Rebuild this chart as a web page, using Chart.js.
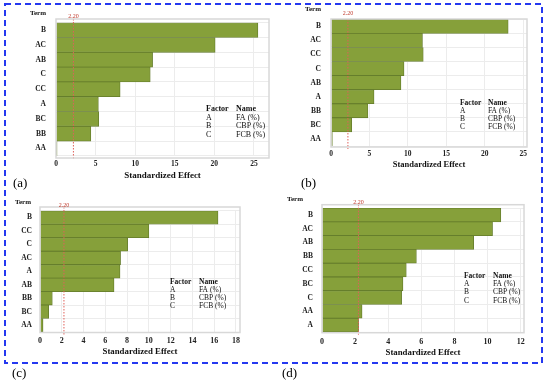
<!DOCTYPE html>
<html>
<head>
<meta charset="utf-8">
<script src="https://cdn.jsdelivr.net/npm/chart.js@4.4.1/dist/chart.umd.min.js"></script>
<style>
  html, body { margin: 0; padding: 0; background: #fff; }
  #page { position: relative; width: 550px; height: 380px; overflow: hidden; font-family: "Liberation Serif", "Times New Roman", serif; }
  #page canvas, #page svg { position: absolute; }
  .tag { position: absolute; font-size: 13px; line-height: 1; color: #000; }
</style>
</head>
<body>
<div id="page">
  <svg width="550" height="380" style="left:0;top:0">
    <rect x="5" y="4" width="537" height="359" fill="none" stroke="#2538f0" stroke-width="2" stroke-dasharray="6 4"/>
  </svg>
  <canvas id="chartA" width="275" height="190" style="left:0;top:0"></canvas>
  <canvas id="chartB" width="275" height="190" style="left:275px;top:0"></canvas>
  <canvas id="chartC" width="275" height="190" style="left:0;top:190px"></canvas>
  <canvas id="chartD" width="275" height="190" style="left:275px;top:190px"></canvas>
  <div class="tag" style="left:13px;top:176px">(a)</div>
  <div class="tag" style="left:301px;top:176px">(b)</div>
  <div class="tag" style="left:12px;top:366px">(c)</div>
  <div class="tag" style="left:282px;top:366px">(d)</div>
</div>
<script>
  "use strict";

  // Pareto chart data, one set per panel
  const TERMS_A = ["B", "AC", "AB", "C", "CC", "A", "BC", "BB", "AA"];
  const EFFECTS_A = [25.5, 20.1, 12.2, 11.9, 8.1, 5.35, 5.4, 4.4, 0.13];

  const TERMS_B = ["B", "AC", "CC", "C", "AB", "A", "BB", "BC", "AA"];
  const EFFECTS_B = [23.05, 11.9, 12.0, 9.5, 9.1, 5.6, 4.8, 2.7, 0.17];

  const TERMS_C = ["B", "CC", "C", "AC", "A", "AB", "BB", "BC", "AA"];
  const EFFECTS_C = [16.35, 10.0, 8.05, 7.4, 7.35, 6.8, 1.13, 0.8, 0.28];

  const TERMS_D = ["B", "AC", "AB", "BB", "CC", "BC", "C", "AA", "A"];
  const EFFECTS_D = [10.8, 10.3, 9.16, 5.7, 5.09, 4.89, 4.81, 2.42, 2.21];

  const CRITICAL_T = 2.20;
  const FACTORS = ["A", "B", "C"];
  const FACTOR_NAMES = ["FA (%)", "CBP (%)", "FCB (%)"];

  const SERIF = '"Liberation Serif", "Times New Roman", serif';
  const BAR_FILL = "#86a03a";
  const BAR_EDGE = "#627a2b";
  const GRID = "#ececec";
  const W = 275, H = 190;

  const paretoDecor = {
    id: "paretoDecor",
    afterDatasetsDraw(chart, args, g) {
      const {ctx, chartArea, scales} = chart;
      const refX = scales.x.getPixelForValue(CRITICAL_T);
      ctx.save();

      ctx.strokeStyle = "#e0605a";
      ctx.lineWidth = 1;
      ctx.setLineDash([1.5, 1.5]);
      ctx.beginPath();
      ctx.moveTo(refX, g.frameTop);
      ctx.lineTo(refX, g.frameBottom + 2);
      ctx.stroke();
      ctx.setLineDash([]);

      ctx.strokeStyle = "#d8d8d8";
      ctx.lineWidth = 1.5;
      ctx.strokeRect(chartArea.left, g.frameTop, chartArea.right - chartArea.left, g.frameBottom - g.frameTop);

      ctx.textBaseline = "middle";
      ctx.textAlign = "center";
      ctx.fillStyle = "#c0392b";
      ctx.font = `6px ${SERIF}`;
      ctx.fillText(CRITICAL_T.toFixed(2), refX, g.refLabelY);

      ctx.fillStyle = "#111";
      ctx.font = `bold ${g.termSize}px ${SERIF}`;
      ctx.fillText("Term", g.termX, g.termY);

      ctx.textAlign = "left";
      ctx.font = `bold ${g.legendSize}px ${SERIF}`;
      ctx.fillText("Factor", g.legendX, g.legendY);
      ctx.fillText("Name", g.nameX, g.legendY);
      ctx.font = `${g.legendSize}px ${SERIF}`;
      FACTORS.forEach((f, i) => {
        const y = g.legendY + (i + 1) * g.rowGap;
        ctx.fillText(f, g.legendX, y);
        ctx.fillText(FACTOR_NAMES[i], g.nameX, y);
      });
      ctx.restore();
    },
  };

  function makeChart(id, terms, effects, g) {
    const scaleBottom = g.titleY + g.titleSize * 0.6;
    const xHeight = scaleBottom - g.barsBottom;
    return new Chart(document.getElementById(id), {
      type: "bar",
      data: {
        labels: terms,
        datasets: [{
          data: effects,
          backgroundColor: BAR_FILL,
          borderColor: BAR_EDGE,
          borderWidth: 0.8,
          barPercentage: 1,
          categoryPercentage: 1,
        }],
      },
      options: {
        indexAxis: "y",
        responsive: false,
        animation: false,
        layout: {
          padding: {left: 0, top: g.barsTop, right: W - g.right, bottom: H - scaleBottom},
        },
        plugins: {
          legend: {display: false},
          tooltip: {enabled: false},
          paretoDecor: g,
        },
        scales: {
          x: {
            min: 0,
            max: g.xMax,
            grid: {color: GRID, drawTicks: false},
            border: {display: false},
            ticks: {
              stepSize: g.step,
              includeBounds: false,
              padding: g.tickY - g.barsBottom - g.tickSize * 0.6,
              color: "#222",
              font: {family: SERIF, size: g.tickSize, weight: "bold"},
            },
            title: {
              display: true,
              text: "Standardized Effect",
              color: "#111",
              padding: 0,
              font: {family: SERIF, size: g.titleSize, weight: "bold"},
            },
            afterFit: (s) => { s.height = xHeight; },
          },
          y: {
            grid: {color: GRID, drawTicks: false, offset: true},
            border: {display: false},
            ticks: {
              autoSkip: false,
              padding: g.yPad,
              color: "#222",
              font: {family: SERIF, size: 7.5, weight: "bold"},
            },
            afterFit: (s) => { s.width = g.left; },
          },
        },
      },
      plugins: [paretoDecor],
    });
  }

  makeChart("chartA", TERMS_A, EFFECTS_A, {
    left: 56, right: 269, barsTop: 22.7, barsBottom: 155.9, frameTop: 19, frameBottom: 158,
    xMax: 26.9, step: 5, tickY: 164, tickSize: 7.5, titleY: 176, titleSize: 9, yPad: 10,
    termX: 38, termY: 13, termSize: 7, refLabelY: 16,
    legendX: 206, nameX: 236, legendY: 109, rowGap: 8.7, legendSize: 8,
  });
  makeChart("chartB", TERMS_B, EFFECTS_B, {
    left: 56, right: 252, barsTop: 19.3, barsBottom: 146, frameTop: 19, frameBottom: 147,
    xMax: 25.5, step: 5, tickY: 154, tickSize: 7.5, titleY: 164.5, titleSize: 8.5, yPad: 10,
    termX: 38, termY: 9.5, termSize: 7, refLabelY: 13,
    legendX: 185, nameX: 213, legendY: 103.5, rowGap: 7.9, legendSize: 7.5,
  });
  makeChart("chartC", TERMS_C, EFFECTS_C, {
    left: 40, right: 240, barsTop: 20.8, barsBottom: 142, frameTop: 17, frameBottom: 142.5,
    xMax: 18.37, step: 2, tickY: 150.7, tickSize: 8, titleY: 161.7, titleSize: 8.8, yPad: 8,
    termX: 23, termY: 11.7, termSize: 7, refLabelY: 15,
    legendX: 170, nameX: 199, legendY: 92, rowGap: 8, legendSize: 7.5,
  });
  makeChart("chartD", TERMS_D, EFFECTS_D, {
    left: 47, right: 249, barsTop: 18.1, barsBottom: 142, frameTop: 14.7, frameBottom: 142.7,
    xMax: 12.2, step: 2, tickY: 151.7, tickSize: 8, titleY: 162.7, titleSize: 8.8, yPad: 9,
    termX: 20, termY: 9.3, termSize: 7, refLabelY: 12.7,
    legendX: 189, nameX: 218, legendY: 86.3, rowGap: 8.1, legendSize: 7.5,
  });
</script>
</body>
</html>
